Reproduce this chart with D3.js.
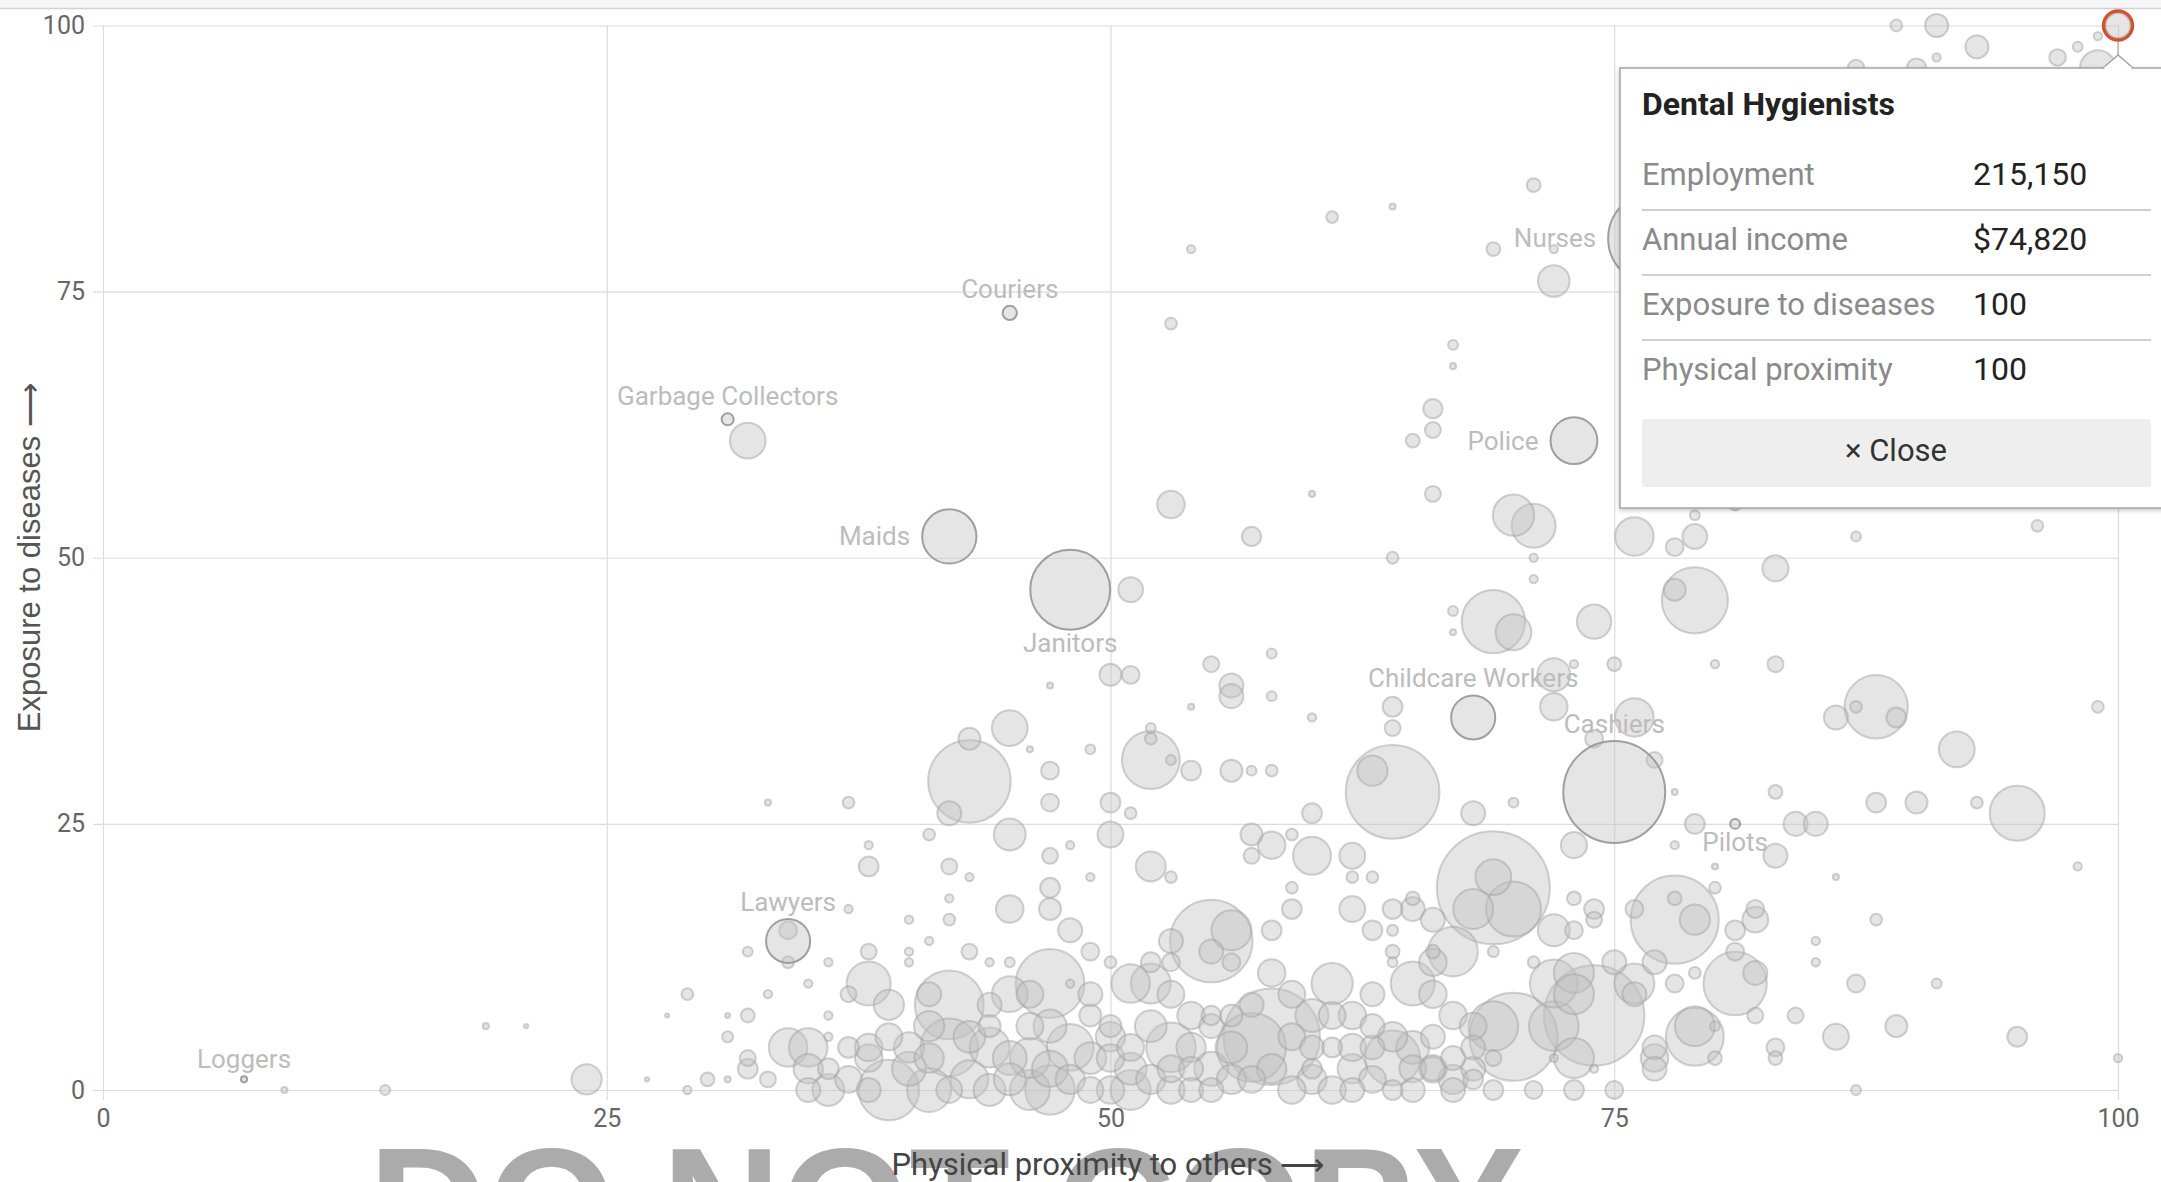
<!DOCTYPE html>
<html>
<head>
<meta charset="utf-8">
<script src="https://cdn.jsdelivr.net/npm/d3@7"></script>
<style>
  body { margin: 0; background: #fff; }
  svg { display: block; }
  .tick text { font-family: Roboto, sans-serif; font-size: 25px; fill: #666; }
  .tick line { stroke: #dcdcdc; stroke-width: 1.2; }
</style>
</head>
<body>
<svg id="chart"></svg>
<script>

// highlighted occupation (shown in the tooltip)
var selectedName = "Dental Hygienists";
var selectedProximity = 100;
var selectedExposure = 100;
var selectedEmployment = 215.15; // thousands
var tooltipLabels = ["Employment", "Annual income", "Exposure to diseases", "Physical proximity"];
var tooltipValues = ["215,150", "$74,820", "100", "100"];

// labelled occupations
var labelNames = ["Nurses", "Couriers", "Garbage Collectors", "Police", "Maids", "Janitors",
    "Childcare Workers", "Cashiers", "Pilots", "Lawyers", "Loggers"];
var labelProximity = [77, 45, 31, 73, 42, 48, 68, 75, 81, 34, 7];
var labelExposure = [80, 73, 63, 61, 52, 47, 35, 28, 25, 14, 1];
var labelEmployment = [2980, 70, 50, 760, 1020, 2212, 673, 3600, 34, 673, 13];
var labelSide = ["left", "top", "top", "left", "left", "bottom", "top", "top", "bottom", "top", "top"];

// all other occupations: proximity, exposure, employment (thousands)
var proximity = [89,91,93,91,97,98,99,99,87,90,71,61,64,54,69,72,72,53,67,67,66,32,65,66,60,53,66,57,70,71,
    64,71,71,51,76,79,79,78,81,87,96,83,79,78,69,70,74,67,67,73,75,72,72,80,83,50,51,47,55,58,
    56,56,58,54,60,64,64,45,43,43,46,49,52,52,52,53,54,56,57,58,64,63,76,74,77,87,88,86,89,99,
    92,83,78,70,68,79,84,85,88,90,93,95,83,78,80,86,98,73,69,69,70,68,78,79,78,76,74,74,73,73,
    72,81,82,82,80,88,85,85,81,82,81,79,78,77,76,76,75,74,73,73,72,71,70,69,72,68,68,67,67,69,
    69,71,73,73,72,87,91,84,82,86,89,95,100,87,83,83,79,79,77,77,77,80,80,75,74,68,66,9,14,19,
    21,24,27,29,28,31,29,30,31,32,34,34,32,33,37,42,41,38,38,42,45,47,47,48,47,49,50,50,51,52,
    53,45,47,47,48,55,56,55,53,57,57,58,59,60,60,62,62,63,62,63,64,65,65,59,59,58,64,66,67,66,
    64,64,66,65,61,58,56,52,53,50,49,48,45,44,43,40,40,41,40,42,38,39,38,42,47,45,51,52,37,36,
    36,34,35,32,33,35,36,39,41,38,40,42,42,44,44,45,46,46,47,48,49,50,50,51,51,53,53,54,54,55,
    57,58,59,60,61,61,62,62,63,64,65,65,66,64,66,67,62,60,54,55,56,49,50,44,41,38,47,33,32,31,
    36,35,37,42,43,69,
    35,37,38,40,41,43,43,45,46,47,48,49,50,51,52,52,53,54,55,55,56,56,57,58,59,60,60,61,62,63,
    63,64,65,66,67,68,44,46,49,53,57,59,63,41,39,37,36];
var exposure = [100,100,98,97,97,98,96,99,96,96,85,82,83,79,79,79,76,72,70,68,64,61,61,62,56,55,56,52,54,53,
    50,50,48,47,52,54,52,51,55,52,53,49,46,47,44,43,44,45,43,40,40,39,36,40,40,39,39,38,40,41,
    38,37,37,36,35,36,34,34,33,29,32,32,34,33,31,31,30,30,30,30,28,30,35,33,31,36,36,35,35,36,
    32,28,28,27,26,25,25,25,27,27,27,26,22,23,21,20,21,23,19,20,17,17,16,16,18,17,17,16,18,15,
    15,15,16,17,19,16,14,12,10,11,13,11,10,12,10,9,12,7,11,9,10,12,5,6,6,2,1,3,0,0,
    3,0,3,0,3,10,10,7,7,5,6,5,3,0,4,3,5,6,4,3,2,3,6,0,2,4,2,0,0,6,
    6,1,1,9,7,7,0,1,1,3,15,12,13,27,27,26,24,23,21,21,24,27,30,23,22,20,27,24,26,21,
    20,17,19,17,15,14,15,13,14,24,22,23,24,26,22,22,20,20,17,15,17,18,17,19,17,15,15,16,13,13,
    13,12,12,10,10,11,12,12,12,12,13,10,12,12,13,13,12,14,16,16,13,8,10,8,10,9,10,10,9,7,
    5,4,4,2,1,0,0,0,0,3,4,4,0,0,4,1,0,3,0,4,0,0,3,2,0,0,4,2,0,0,
    4,5,0,2,4,0,4,0,4,3,0,4,2,0,9,7,7,7,7,7,7,7,6,6,6,4,6,9,7,5,
    12,10,17,18,20,13,
    2,1,0,2,3,1,5,3,6,2,1,3,5,4,1,6,2,4,2,6,1,4,1,2,5,1,4,7,2,1,
    6,5,2,5,1,6,8,9,9,9,8,9,9,9,5,4,2];
var employment = [48,185,185,24,95,34,444,24,95,129,66,48,13,24,66,24,348,48,34,13,129,444,66,88,13,263,88,129,592,673,
    48,24,24,213,515,34,213,111,48,34,48,237,1515,168,1391,444,411,34,13,24,66,379,263,24,88,168,111,13,88,34,
    200,200,34,13,24,136,88,444,168,2367,13,34,34,48,1160,34,136,168,34,48,3040,318,515,111,88,48,1391,200,136,48,
    444,66,13,34,200,136,200,200,136,168,48,1052,200,24,13,13,24,237,4420,444,1052,553,2693,318,66,111,136,88,66,111,
    354,136,232,111,48,48,24,24,1391,200,111,48,111,200,553,200,200,3500,553,553,796,48,2693,852,852,200,136,200,200,136,
    88,111,553,136,24,111,34,88,88,232,168,136,24,34,111,66,1160,553,200,263,200,66,34,111,24,200,200,13,34,13,
    6,318,6,48,6,8,24,66,13,88,111,48,34,13,48,200,48,24,136,88,354,111,111,24,88,24,136,232,48,312,
    48,263,136,168,200,2367,553,200,200,168,88,263,48,136,500,232,48,48,232,136,136,66,200,48,136,136,42,200,852,66,
    66,34,263,673,592,263,111,136,111,48,111,24,34,24,88,24,24,24,24,48,88,318,673,1644,1644,444,515,553,88,24,
    24,515,515,136,88,200,354,1273,673,263,318,1160,232,354,553,354,553,553,852,760,232,263,263,354,553,263,852,200,200,200,
    1644,3220,263,136,136,263,263,200,200,1052,200,379,263,136,263,263,263,379,263,129,168,168,168,168,318,263,379,24,66,42,
    24,24,24,24,24,42,
    300,250,200,400,300,500,350,400,250,450,300,350,300,250,300,350,250,300,400,200,300,350,250,300,250,300,200,250,300,250,
    200,300,250,200,300,250,200,250,200,250,200,250,200,200,250,150,150];

width = 2161;
height = 1182;
margin = {left: 103, right: 43, top: 25.5, bottom: 92};

svg = d3.select("#chart")
    .attr("width", width)
    .attr("height", height);

x = d3.scaleLinear()
    .domain([0, 100])
    .range([margin.left, width - margin.right]);

y = d3.scaleLinear()
    .domain([0, 100])
    .range([height - margin.bottom, margin.top]);

r = d3.scaleSqrt()
    .domain([0, 4500])
    .range([0, 57]);

var defs = svg.append("defs");
var shadow = defs.append("filter").attr("id", "shadow")
    .attr("x", "-5%").attr("y", "-5%").attr("width", "110%").attr("height", "115%");
shadow.append("feDropShadow")
    .attr("dx", 0).attr("dy", 1.5).attr("stdDeviation", 2)
    .attr("flood-color", "#000").attr("flood-opacity", 0.25);

// page rule at the very top
svg.append("rect").attr("x", 0).attr("y", 0).attr("width", width).attr("height", 8).attr("fill", "#f6f6f6");
svg.append("line").attr("x1", 0).attr("x2", width).attr("y1", 8.5).attr("y2", 8.5)
    .attr("stroke", "#d2d2d2").attr("stroke-width", 1.5);

// watermark
svg.append("text")
    .attr("x", 946)
    .attr("y", 1263)
    .attr("text-anchor", "middle")
    .style("font-family", "'Liberation Sans', Arial, sans-serif")
    .style("font-weight", "bold")
    .style("font-size", "165px")
    .attr("fill", "#ababab")
    .text("DO NOT COPY");

// grid + axes
svg.append("g")
    .attr("transform", "translate(" + (margin.left - 10) + ",0)")
    .call(d3.axisLeft(y)
        .tickValues([0, 25, 50, 75, 100])
        .tickSize(-(x(100) - margin.left + 10))
        .tickPadding(8))
    .call(g => g.select(".domain").remove());

svg.append("g")
    .attr("transform", "translate(0," + (y(0) + 10) + ")")
    .call(d3.axisBottom(x)
        .tickValues([0, 25, 50, 75, 100])
        .tickSize(-(y(0) + 10 - y(100)))
        .tickPadding(9))
    .call(g => g.select(".domain").remove());

// axis titles
svg.append("text")
    .attr("transform", "translate(40," + ((y(0) + y(100)) / 2) + ") rotate(-90)")
    .attr("text-anchor", "middle")
    .style("font-family", "'Liberation Sans', Arial, sans-serif")
    .style("font-size", "31px")
    .attr("fill", "#555")
    .text("Exposure to diseases \u27f6");

svg.append("text")
    .attr("x", 1108)
    .attr("y", 1175)
    .attr("text-anchor", "middle")
    .style("font-family", "Roboto, sans-serif")
    .style("font-size", "31px")
    .attr("fill", "#444")
    .text("Physical proximity to others \u27f6");

// bubbles
var data = proximity.map((p, i) => ({x: p, y: exposure[i], emp: employment[i]}));
data.sort((a, b) => b.emp - a.emp);

var labelled = labelNames.map((n, i) => ({
    name: n, x: labelProximity[i], y: labelExposure[i], emp: labelEmployment[i], side: labelSide[i]
}));
var selected = {x: selectedProximity, y: selectedExposure, emp: selectedEmployment};

var bubbles = svg.append("g");

bubbles.selectAll("circle.other")
    .data(data.concat([selected]))
    .enter().append("circle")
    .attr("class", "other")
    .attr("cx", d => x(d.x))
    .attr("cy", d => y(d.y))
    .attr("r", d => r(d.emp))
    .attr("fill", "#c0c0c0")
    .attr("fill-opacity", 0.42)
    .attr("stroke", "#a4a4a4")
    .attr("stroke-opacity", 0.5)
    .attr("stroke-width", 2);

bubbles.selectAll("circle.named")
    .data(labelled)
    .enter().append("circle")
    .attr("class", "named")
    .attr("cx", d => x(d.x))
    .attr("cy", d => y(d.y))
    .attr("r", d => r(d.emp))
    .attr("fill", "#c0c0c0")
    .attr("fill-opacity", 0.42)
    .attr("stroke", "#969696")
    .attr("stroke-opacity", 0.9)
    .attr("stroke-width", 2);

svg.append("g").selectAll("text")
    .data(labelled)
    .enter().append("text")
    .attr("x", function(d) {
        if (d.side == "left") return x(d.x) - r(d.emp) - 12;
        return x(d.x);
    })
    .attr("y", function(d) {
        if (d.side == "top") return y(d.y) - r(d.emp) - 8;
        if (d.side == "bottom") return y(d.y) + r(d.emp) + 22;
        return y(d.y) + 9;
    })
    .attr("text-anchor", d => d.side == "left" ? "end" : "middle")
    .style("font-family", "Roboto, sans-serif")
    .style("font-size", "26px")
    .attr("fill", "#bcbcbc")
    .text(d => d.name);

// selected ring
svg.append("circle")
    .attr("cx", x(selected.x))
    .attr("cy", y(selected.y))
    .attr("r", r(selected.emp) + 2)
    .attr("fill", "none")
    .attr("stroke", "#cd5532")
    .attr("stroke-width", 3.5);

// tooltip
var tipX = 1620, tipY = 68;
var tip = svg.append("g");

tip.append("line")
    .attr("x1", x(selected.x)).attr("x2", x(selected.x))
    .attr("y1", y(selected.y) + r(selected.emp) + 4).attr("y2", tipY - 12)
    .attr("stroke", "#999").attr("stroke-width", 1);

tip.append("rect")
    .attr("x", tipX).attr("y", tipY)
    .attr("width", 560).attr("height", 440)
    .attr("fill", "#fff")
    .attr("stroke", "#a4a4a4")
    .attr("stroke-width", 1.5)
    .attr("filter", "url(#shadow)");

var cx = x(selected.x);
tip.append("path")
    .attr("d", "M" + (cx - 15) + "," + tipY + "L" + cx + "," + (tipY - 13) + "L" + (cx + 15) + "," + tipY)
    .attr("fill", "#fff")
    .attr("stroke", "#a4a4a4")
    .attr("stroke-width", 1.5);
tip.append("line")
    .attr("x1", cx - 13.5).attr("x2", cx + 13.5)
    .attr("y1", tipY).attr("y2", tipY)
    .attr("stroke", "#fff").attr("stroke-width", 2.5);

tip.append("text")
    .attr("x", 1642).attr("y", 115)
    .style("font-family", "Roboto, sans-serif")
    .style("font-weight", "bold")
    .style("font-size", "32px")
    .attr("fill", "#222")
    .text(selectedName);

tooltipLabels.forEach(function(lab, i) {
    var base = 185 + i * 65;
    tip.append("text")
        .attr("x", 1642).attr("y", base)
        .style("font-family", "Roboto, sans-serif")
        .style("font-size", "31px")
        .attr("fill", "#8a8a8a")
        .text(lab);
    tip.append("text")
        .attr("x", 1973).attr("y", base)
        .style("font-family", "Roboto, sans-serif")
        .style("font-size", "32px")
        .attr("fill", "#222")
        .text(tooltipValues[i]);
    if (i < tooltipLabels.length - 1) {
        tip.append("line")
            .attr("x1", 1642).attr("x2", 2151)
            .attr("y1", base + 25).attr("y2", base + 25)
            .attr("stroke", "#cfcfcf").attr("stroke-width", 2);
    }
});

tip.append("rect")
    .attr("x", 1642).attr("y", 419)
    .attr("width", 509).attr("height", 68)
    .attr("rx", 3)
    .attr("fill", "#eeeeee");
tip.append("text")
    .attr("x", 1896).attr("y", 461)
    .attr("text-anchor", "middle")
    .style("font-family", "Roboto, sans-serif")
    .style("font-size", "31px")
    .attr("fill", "#333")
    .text("\u00d7 Close");

</script>
</body>
</html>
